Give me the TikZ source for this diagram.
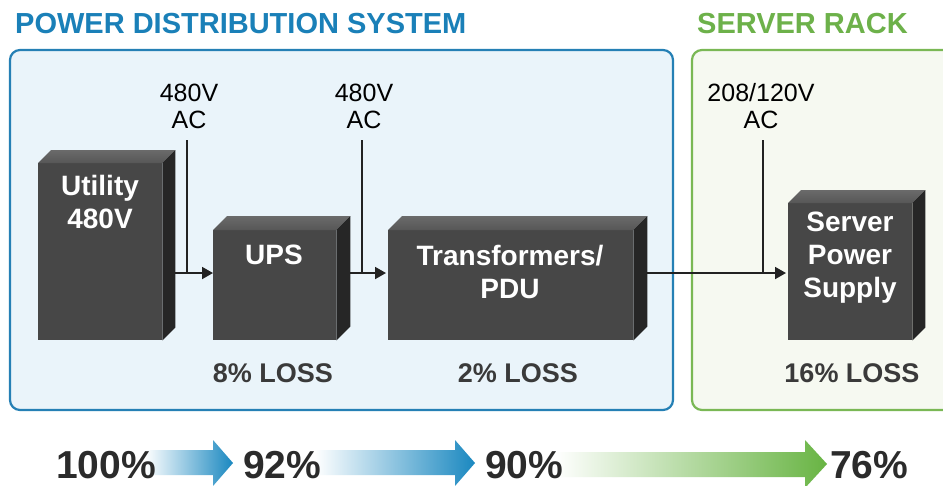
\documentclass[tikz,border=0pt]{standalone}
\usepackage{fontspec}
\setmainfont{Liberation Sans}
\usetikzlibrary{arrows.meta,calc}
\definecolor{titleblue}{HTML}{1A80B8}
\definecolor{titlegreen}{HTML}{6DB14A}
\definecolor{panelblue}{HTML}{EAF4FA}
\definecolor{panelblueline}{HTML}{2580B5}
\definecolor{panelgreen}{HTML}{F6F9F1}
\definecolor{panelgreenline}{HTML}{7AB855}
\definecolor{frontc}{HTML}{474747}
\definecolor{topc}{HTML}{6A6A6A}
\definecolor{topc2}{HTML}{575757}
\definecolor{sidec}{HTML}{262626}
\definecolor{losstext}{HTML}{3A3A3A}
\definecolor{pcttext}{HTML}{2B2B2B}
\definecolor{wireblack}{HTML}{222222}
\definecolor{arrowblue}{HTML}{1A88C0}
\definecolor{arrowgreen}{HTML}{68B443}
\tikzset{
  front/.style={fill=frontc, draw=none, anchor=north west, inner sep=0pt},
  boxtext/.style={text=white, font=\bfseries\fontsize{28}{33}\selectfont, align=center, inner sep=0pt},
  titletext/.style={font=\bfseries\fontsize{29}{33}\selectfont, anchor=base west, inner sep=0pt},
  voltlabel/.style={font=\fontsize{25}{27}\selectfont, align=center, inner sep=0pt, text=black},
  losslabel/.style={font=\bfseries\fontsize{27}{30}\selectfont, text=losstext, anchor=base, inner sep=0pt},
  pctlabel/.style={font=\bfseries\fontsize{39}{40}\selectfont, text=pcttext, anchor=base west, inner sep=0pt},
  wire/.style={draw=wireblack, line width=1.8pt},
  feed/.style={wire, -{Triangle[length=11pt,width=12pt]}},
}
\newcommand\cubefaces[2]{%
  \shade[top color=topc, bottom color=topc2] (#1.north west) -- ++(#2,-#2) -- ($(#1.north east)+(#2,-#2)$) -- (#1.north east) -- cycle;
  \fill[sidec] (#1.north east) -- ++(#2,-#2) -- ($(#1.south east)+(#2,-#2)$) -- (#1.south east) -- cycle;
}
\begin{document}
\begin{tikzpicture}[x=1pt,y=-1pt]
\clip (0,0) rectangle (943,485);
\fill[white] (0,0) rectangle (943,485);

% titles
\node[titletext, text=titleblue] (t1) at (15,33) {POWER DISTRIBUTION SYSTEM};
\node[titletext, text=titlegreen] (t2) at (697,33) {SERVER RACK};

% panels
\draw[fill=panelblue, draw=panelblueline, line width=2.2pt, rounded corners=10pt] (10,50) rectangle (673,410);
\draw[fill=panelgreen, draw=panelgreenline, line width=2.2pt, rounded corners=10pt] (692,50) rectangle (980,410);

% wires (drawn before boxes)
\coordinate (j1) at (187,273);
\coordinate (j2) at (362,273);
\coordinate (j3) at (763,273);
\coordinate (s1) at (187,140);
\coordinate (s2) at (362,140);
\coordinate (s3) at (763,140);

% boxes
\node[front, minimum width=124pt, minimum height=177pt] (util) at (38,163) {};
\cubefaces{util}{13}
\node[front, minimum width=123pt, minimum height=110pt] (ups) at (213,230) {};
\cubefaces{ups}{14}
\node[front, minimum width=245pt, minimum height=110pt] (pdu) at (388,230) {};
\cubefaces{pdu}{14}
\node[front, minimum width=124pt, minimum height=137pt] (psu) at (788,203) {};
\cubefaces{psu}{13}

\node[boxtext] (utiltext) at (100,202) {Utility\\480V};
\node[boxtext] (upstext) at (274,255) {UPS};
\node[boxtext] (pdutext) at (510,272) {Transformers/\\PDU};
\node[boxtext] (psutext) at (850,258) {Server\\Power\\Supply};

% voltage labels
\node[voltlabel] (v1) at (189,106) {480V\\AC};
\node[voltlabel] (v2) at (364,106) {480V\\AC};
\node[voltlabel] (v3) at (761,106) {208/120V\\AC};

% connectors
\draw[wire] (s1) -- (j1);
\draw[wire] (s2) -- (j2);
\draw[wire] (s3) -- (j3);
\draw[feed] ([xshift=13pt]util.east |- j1) -- (ups.west |- j1);
\draw[feed] ([xshift=14pt]ups.east |- j2) -- ([xshift=-2pt]pdu.west |- j2);
\draw[feed] ([xshift=13pt]pdu.east |- j3) -- ([xshift=-2pt]psu.west |- j3);

% loss labels
\node[losslabel] (l1) at (273,382) {8\% LOSS};
\node[losslabel] (l2) at (518,382) {2\% LOSS};
\node[losslabel] (l3) at (852,382) {16\% LOSS};

% bottom gradient arrows
\shade[left color=white, right color=arrowblue] (145,450) -- (213,450) -- (213,440) -- (233,463) -- (213,486) -- (213,475) -- (145,475) -- cycle;
\shade[left color=white, right color=arrowblue] (315,450) -- (455,450) -- (455,440) -- (475,463) -- (455,486) -- (455,475) -- (315,475) -- cycle;
\shade[left color=white, right color=arrowgreen] (555,452) -- (805,452) -- (805,440) -- (827,464) -- (805,488) -- (805,477) -- (555,477) -- cycle;

\node[pctlabel] (p1) at (56,478) {100\%};
\node[pctlabel] (p2) at (243,478) {92\%};
\node[pctlabel] (p3) at (485,478) {90\%};
\node[pctlabel] (p4) at (830,478) {76\%};
\end{tikzpicture}
\end{document}
